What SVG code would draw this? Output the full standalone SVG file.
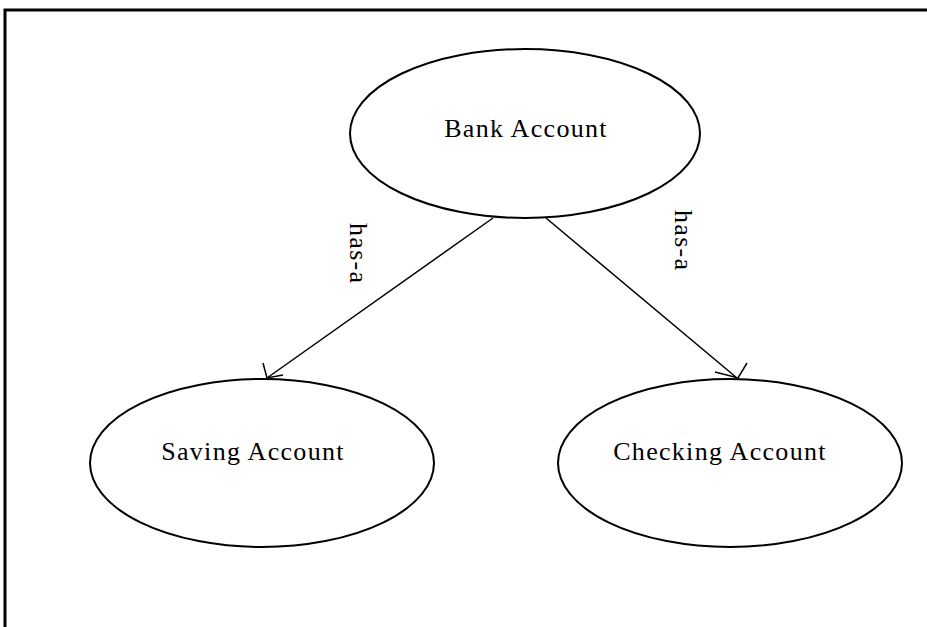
<svg xmlns="http://www.w3.org/2000/svg" width="927" height="627" viewBox="0 0 927 627">
<style>
.frame{stroke:#000;stroke-width:3;fill:none}
.node ellipse{fill:#fff;stroke:#000;stroke-width:2}
.lbl{font-family:"Liberation Serif","Times New Roman",serif;font-size:26px;letter-spacing:1.3px;fill:#000}
.edge{stroke:#000;stroke-width:1.5;fill:none}
</style>
<rect width="927" height="627" fill="#fff"/>
<path class="frame" d="M5,627 V10 H927"/>
<g id="bank-account" class="node">
<ellipse cx="525" cy="133.5" rx="175" ry="84.5"/>
<text class="lbl" x="526" y="137" text-anchor="middle">Bank Account</text>
</g>
<g id="saving-account" class="node">
<ellipse cx="262" cy="463" rx="172" ry="84"/>
<text class="lbl" x="253" y="460" text-anchor="middle">Saving Account</text>
</g>
<g id="checking-account" class="node">
<ellipse cx="730" cy="463" rx="172" ry="84"/>
<text class="lbl" x="720" y="460" text-anchor="middle">Checking Account</text>
</g>
<g id="connectors">
<path class="edge" d="M493,218 L267,378 M263,363 L267,378 L283,375"/>
<path class="edge" d="M546,218 L737,378 M747,363 L738,378 L715,372"/>
<text class="lbl" transform="translate(350,223) rotate(90)">has-a</text>
<text class="lbl" transform="translate(675,210) rotate(90)">has-a</text>
</g>
</svg>
